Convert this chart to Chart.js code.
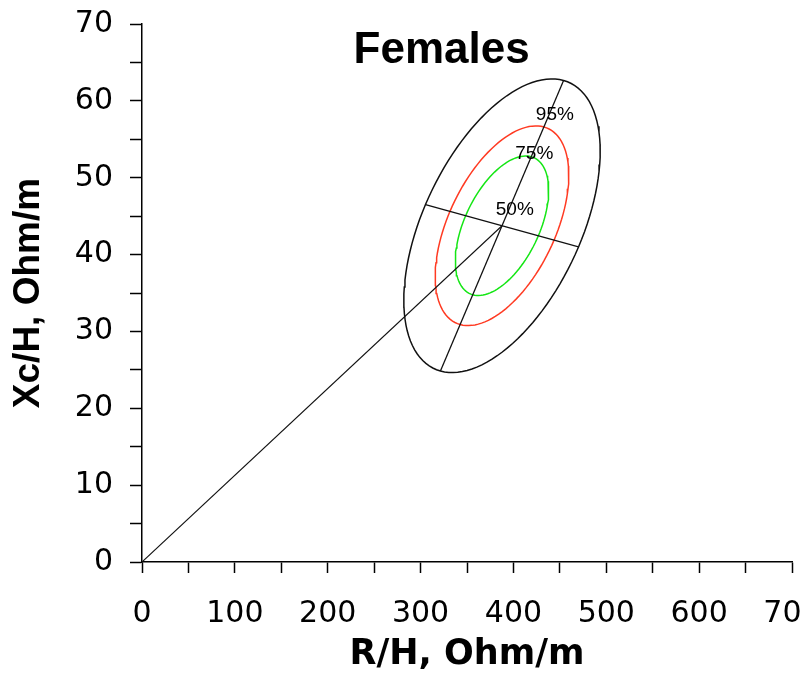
<!DOCTYPE html>
<html>
<head>
<meta charset="utf-8">
<script src="https://cdn.jsdelivr.net/npm/chart.js@4.4.0/dist/chart.umd.min.js"></script>
<style>
  html, body { margin: 0; padding: 0; background: #fff; }
</style>
</head>
<body>
<canvas id="graf_biva" width="802" height="679"></canvas>
<script>
// Valores (R/H y Xc/H en Ohm/m)
var titulo = 'Females';
var centro = [387.7, 43.75];
var semiejeMayor = [66.3, 18.9];   // centro -> extremo superior del eje largo (95%)
var semiejeMenor = [82.4, -2.76];  // centro -> extremo derecho del eje corto (95%)
var niveles = ['50%', '75%', '95%'];
var escalaNivel = [0.475, 0.68, 1];
var etiquetaX = [401.5, 422.5, 444.6];
var etiquetaY = [45.8, 53.1, 58.2];
var origen = [0, 0];
var ticksX = [0, 100, 200, 300, 400, 500, 600, 700];
var ticksY = [0, 10, 20, 30, 40, 50, 60, 70];

var coloresNivel = ['#14e614', '#ff3a22', '#111111'];

// contorno de una elipse de tolerancia a partir del centro y los semiejes
function elipse(k) {
  var pts = [];
  for (var i = 0; i <= 120; i++) {
    var t = 2 * Math.PI * i / 120;
    pts.push({
      x: centro[0] + k * (Math.cos(t) * semiejeMayor[0] + Math.sin(t) * semiejeMenor[0]),
      y: centro[1] + k * (Math.cos(t) * semiejeMayor[1] + Math.sin(t) * semiejeMenor[1])
    });
  }
  return pts;
}

function linea(data, color, ancho) {
  return {
    data: data,
    showLine: true,
    borderColor: color,
    borderWidth: ancho,
    pointRadius: 0,
    fill: false,
    tension: 0
  };
}

var datasets = [
  linea([{x: origen[0], y: origen[1]}, {x: centro[0], y: centro[1]}], '#111', 1.1),
  linea([{x: centro[0] - semiejeMayor[0], y: centro[1] - semiejeMayor[1]},
         {x: centro[0] + semiejeMayor[0], y: centro[1] + semiejeMayor[1]}], '#111', 1.3),
  linea([{x: centro[0] - semiejeMenor[0], y: centro[1] - semiejeMenor[1]},
         {x: centro[0] + semiejeMenor[0], y: centro[1] + semiejeMenor[1]}], '#111', 1.3)
];
niveles.forEach(function (n, i) {
  datasets.push(linea(elipse(escalaNivel[i]), coloresNivel[i], 1.5));
});

// titulo dentro del area y etiquetas de porcentaje
var textos = {
  id: 'textos',
  afterDatasetsDraw: function (chart) {
    var ctx = chart.ctx, a = chart.chartArea;
    var sx = chart.scales.x, sy = chart.scales.y;
    ctx.save();
    ctx.fillStyle = '#000';
    ctx.textAlign = 'center';
    ctx.textBaseline = 'alphabetic';
    ctx.font = 'bold 44px "Liberation Sans", Arial, sans-serif';
    ctx.fillText(titulo, a.left + a.width * 0.461, a.top + 39);
    ctx.font = '19px "Liberation Sans", Arial, sans-serif';
    ctx.textBaseline = 'middle';
    niveles.forEach(function (n, i) {
      ctx.fillText(n, sx.getPixelForValue(etiquetaX[i]), sy.getPixelForValue(etiquetaY[i]));
    });
    ctx.restore();
  }
};

var ctx = document.getElementById('graf_biva').getContext('2d');

var graf_biva = new Chart(ctx, {
  type: 'scatter',
  data: { datasets: datasets },
  plugins: [textos],
  options: {
    responsive: false,
    animation: false,
    layout: { padding: { left: 0, right: 10, top: 24, bottom: 0 } },
    plugins: { legend: { display: false }, tooltip: { enabled: false } },
    scales: {
      x: {
        type: 'linear',
        min: 0,
        max: 700,
        border: { color: '#000', width: 1.5 },
        grid: { drawOnChartArea: false, tickLength: 11, tickColor: '#000', tickWidth: 1.5 },
        ticks: {
          stepSize: 50,
          autoSkip: false,
          minRotation: 0,
          maxRotation: 0,
          padding: 23,
          color: '#000',
          font: { family: '"DejaVu Sans"', size: 30 },
          callback: function (v) { return ticksX.indexOf(v) >= 0 ? String(v) : ''; }
        },
        title: {
          display: true,
          text: 'R/H, Ohm/m',
          color: '#000',
          font: { family: '"DejaVu Sans"', size: 35, weight: 'bold' },
          padding: { top: 0, bottom: 3 }
        },
        afterFit: function (ax) { ax.height = 117; ax.paddingLeft = 0; ax.paddingRight = 0; }
      },
      y: {
        type: 'linear',
        min: 0,
        max: 70,
        border: { color: '#000', width: 1.5 },
        grid: { drawOnChartArea: false, tickLength: 12, tickColor: '#000', tickWidth: 1.5 },
        ticks: {
          stepSize: 5,
          autoSkip: false,
          padding: 17,
          color: '#000',
          font: { family: '"DejaVu Sans"', size: 30 },
          callback: function (v) { return ticksY.indexOf(v) >= 0 ? String(v) : ''; }
        },
        title: {
          display: true,
          text: 'Xc/H, Ohm/m',
          color: '#000',
          font: { family: '"Liberation Sans"', size: 37, weight: 'bold' },
          padding: { top: 7, bottom: 0 }
        },
        afterFit: function (ax) { ax.width = 142; ax.paddingTop = 0; ax.paddingBottom = 0; }
      }
    }
  }
});
</script>
</body>
</html>
